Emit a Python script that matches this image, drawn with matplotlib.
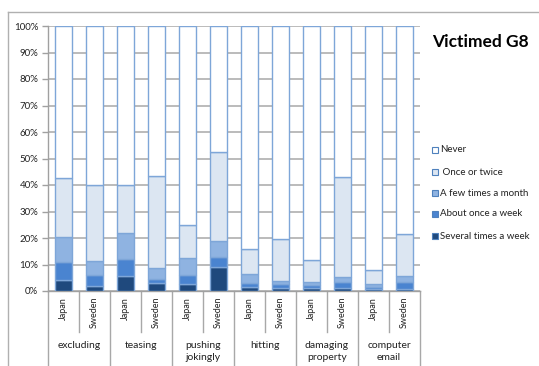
import matplotlib
matplotlib.use("Agg")
import matplotlib.pyplot as plt
import numpy as np
from matplotlib.patches import Rectangle
from matplotlib.transforms import blended_transform_factory

plt.rcParams['font.family'] = ['Lato', 'DejaVu Sans']

groups = ["excluding", "teasing", "pushing\njokingly", "hitting", "damaging\nproperty", "computer\nemail"]
countries = ["Japan", "Sweden"]
series = ["Never", " Once or twice", "A few times a month", "About once a week", "Several times a week"]

# percentages per bar, order: excluding J/S, teasing J/S, pushing J/S, hitting J/S, damaging J/S, computer J/S
several = [4.0, 2.0, 5.5, 3.0, 2.5, 9.2, 1.5, 1.0, 1.3, 1.0, 0.6, 0.8]
about_week = [7.0, 4.0, 6.5, 1.5, 3.5, 3.7, 1.4, 1.5, 1.0, 2.5, 1.0, 2.7]
few_month = [9.5, 5.5, 10.0, 4.0, 6.5, 6.1, 3.4, 1.3, 1.0, 1.7, 0.9, 2.2]
once_twice = [22.0, 28.5, 18.0, 35.0, 12.5, 33.5, 9.4, 15.8, 8.4, 37.8, 5.4, 15.8]
never = [100 - s - a - f - o for s, a, f, o in zip(several, about_week, few_month, once_twice)]

colors = {
    "Several times a week": "#1f497d",
    "About once a week": "#4a84d0",
    "A few times a month": "#8fb3e1",
    " Once or twice": "#dce6f2",
    "Never": "#ffffff",
}
edge = "#7ea6d8"

W, H = 539, 366
fig = plt.figure(figsize=(W / 100, H / 100), dpi=100)
ax = fig.add_axes([48 / W, 1 - 291 / H, 372 / W, 265 / H])

x = np.arange(len(several))
stack = [("Several times a week", several), ("About once a week", about_week),
         ("A few times a month", few_month), (" Once or twice", once_twice), ("Never", never)]
bottom = np.zeros(len(x))
for name, vals in stack:
    vals = np.array(vals)
    ax.bar(x, vals, 0.58, bottom=bottom, color=colors[name], edgecolor=edge, linewidth=1.0, zorder=3)
    bottom += vals

ax.set_xlim(-0.5, len(x) - 0.5)
ax.set_ylim(0, 100)
ax.set_yticks(np.arange(0, 101, 10))
ax.set_yticklabels([f"{v}%" for v in range(0, 101, 10)], fontsize=7, color="#222222")
ax.yaxis.grid(True, color="#b5b5b5", linewidth=1.3, zorder=0)
ax.set_axisbelow(True)
ax.tick_params(axis="y", length=4, width=1, color="#a0a0a0", pad=3)
ax.set_xticks([])
for s in ["top", "right"]:
    ax.spines[s].set_visible(False)
ax.spines["left"].set_color("#a0a0a0")
ax.spines["bottom"].set_color("#a0a0a0")
ax.spines["left"].set_linewidth(1.0)
ax.spines["bottom"].set_linewidth(1.0)

# category axis labels and separators
trans = blended_transform_factory(ax.transData, ax.transAxes)
px = 1 / 265.0
for i in range(len(x)):
    ax.text(x[i], -6 * px, countries[i % 2], rotation=90, ha="center", va="top",
            fontsize=6.5, color="#222222", transform=trans)
for i in range(len(x) + 1):
    xb = i - 0.5
    if i % 2 == 0:
        y1 = -80 * px
    else:
        y1 = -41 * px
    ax.plot([xb, xb], [0, y1], color="#a8a8a8", linewidth=1.0, transform=trans, clip_on=False)
for g, name in enumerate(groups):
    ax.text(2 * g + 0.5, -50 * px, name, ha="center", va="top", fontsize=7.5,
            color="#222222", linespacing=1.45, transform=trans)

# outer frame edges
fig.add_artist(plt.Line2D([8 / W, 1.0], [1 - 12 / H, 1 - 12 / H], color="#b0b0b0", linewidth=1.0))
fig.add_artist(plt.Line2D([8 / W, 8 / W], [0, 1 - 12 / H], color="#b0b0b0", linewidth=1.0))

# title
fig.text(432 / W, 1 - 42 / H, "Victimed G8", fontsize=12.5, fontweight="bold",
         ha="left", va="center", color="#000000")

# legend
ys = [150, 172, 193, 214, 236]
for name, yy in zip(series, ys):
    fig.add_artist(Rectangle((432 / W, 1 - (yy + 3) / H), 6 / W, 6 / H,
                             facecolor=colors[name], edgecolor="#4f81bd", linewidth=0.8,
                             transform=fig.transFigure))
    fig.text(440 / W, 1 - yy / H, name, fontsize=7, ha="left", va="center", color="#222222")

fig.savefig("out.png", dpi=100)
